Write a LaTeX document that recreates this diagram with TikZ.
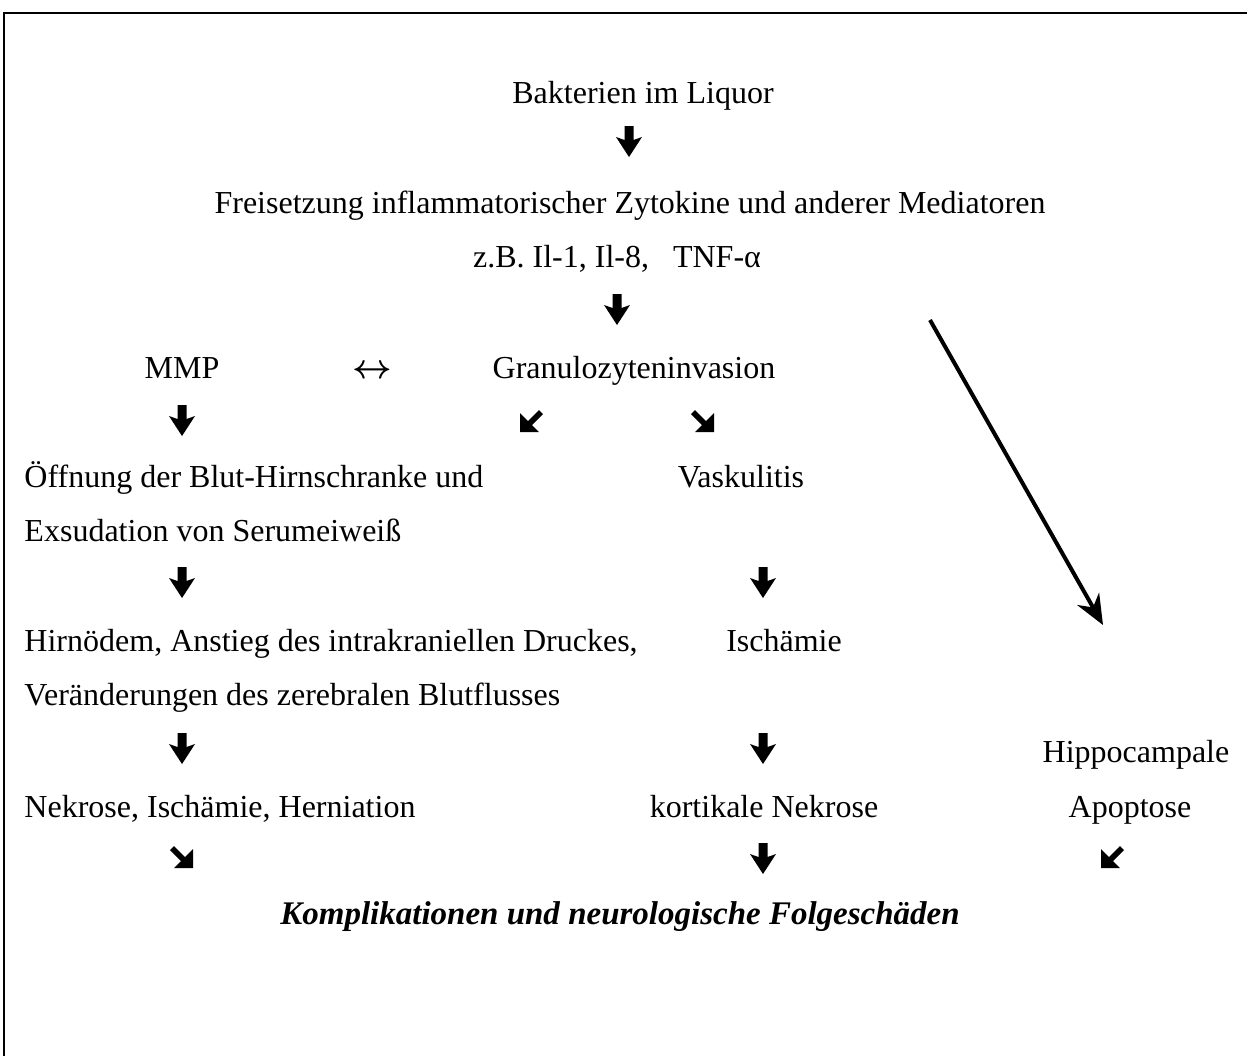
\documentclass[tikz,border=0pt]{standalone}
\usepackage{fontspec}
\setmainfont{Liberation Serif}
\usepackage{tikz}
\usetikzlibrary{positioning, arrows.meta, calc}

% heavy glyph-like arrows
\tikzset{
    % pointing down
    heavy/.pic={
        \fill (-4.5,-15) -- (4.5,-15) -- (4.5,-1) -- (13,-4) -- (0,16) -- (-13,-4) -- (-4.5,-1) -- cycle;
    },
    % pointing to the lower right, head as a corner
    heavyc/.pic={
        \fill (-8,-12) -- (3,-1) -- (11,-9) -- (11,10) -- (-8,10) -- (-1,3) -- (-12,-8) -- cycle;
    }
}

\begin{document}
\begin{tikzpicture}[
    x=0.4pt, y=-0.4pt,
    every node/.style={inner sep=0pt, font=\fontsize{12.8}{15}\selectfont,
        text height=1.6ex, text depth=0.4ex},
    txt/.style={anchor=center, yshift=-1.7pt},
    ltxt/.style={anchor=west, yshift=-1.7pt},
    down/.style={scale=1},
    sw/.style={xscale=-1},
    se/.style={xscale=1}
]
    \useasboundingbox (0,0) rectangle (1247,1056);
    % frame (cut off at the right and at the bottom)
    \draw[line width=0.8pt] (4,1056) |- (1247,13);

    % centre column
    \node[txt] (bakt) at (643,92) {Bakterien im Liquor};
    \node[txt] (frei) at (630,202) {Freisetzung inflammatorischer Zytokine und anderer Mediatoren};
    \node[txt] (zb) at (617,256) {z.B. Il-1, Il-8,\ \ \ TNF-α};
    \node[txt] (mmp) at (182,367) {MMP};
    \node[txt] (lr) at (372,367) {\scalebox{1.15}{\boldmath$\leftrightarrow$}};
    \node[txt] (gran) at (634,367) {Granulozyteninvasion};

    % left column
    \node[ltxt] (oeff) at (24,476) {Öffnung der Blut-Hirnschranke und};
    \node[ltxt] (exsu) at (24,530) {Exsudation von Serumeiweiß};
    \node[ltxt] (hirn) at (24,640) {Hirnödem, Anstieg des intrakraniellen Druckes,};
    \node[ltxt] (vera) at (24,694) {Veränderungen des zerebralen Blutflusses};
    \node[ltxt] (nekr) at (24,806) {Nekrose, Ischämie, Herniation};

    % middle column
    \node[txt] (vask) at (741,476) {Vaskulitis};
    \node[txt] (isch) at (784,640) {Ischämie};
    \node[txt] (kort) at (764,806) {kortikale Nekrose};

    % right column
    \node[txt] (hipp) at (1136,751) {Hippocampale};
    \node[txt] (apop) at (1130,806) {Apoptose};

    \node[txt, font=\fontsize{13.2}{15}\selectfont\bfseries\itshape] (kompl) at (620,913)
        {Komplikationen und neurologische Folgeschäden};

    % heavy arrows
    \coordinate (a1) at (629,141);
    \coordinate (a2) at (617,309);
    \coordinate (a3) at (182,420);
    \coordinate (a4) at (531,422);
    \coordinate (a5) at (703,422);
    \coordinate (a6) at (182,582);
    \coordinate (a7) at (763,582);
    \coordinate (a8) at (182,748);
    \coordinate (a9) at (763,748);
    \coordinate (a10) at (182,858);
    \coordinate (a11) at (763,858);
    \coordinate (a12) at (1112,858);
    \foreach \c in {a1,a2,a3,a6,a7,a8,a9,a11}
        \pic[down] at (\c) {heavy};
    \pic[sw] at (a4) {heavyc};
    \pic[sw] at (a12) {heavyc};
    \pic[se] at (a5) {heavyc};
    \pic[se] at (a10) {heavyc};

    % long arrow towards Hippocampale Apoptose
    \coordinate (ls) at (930,320);
    \coordinate (le) at (1103,625);
    \draw[line width=1.6pt, -{Stealth[length=12pt, width=10pt]}] (ls) -- (le);
\end{tikzpicture}
\end{document}
